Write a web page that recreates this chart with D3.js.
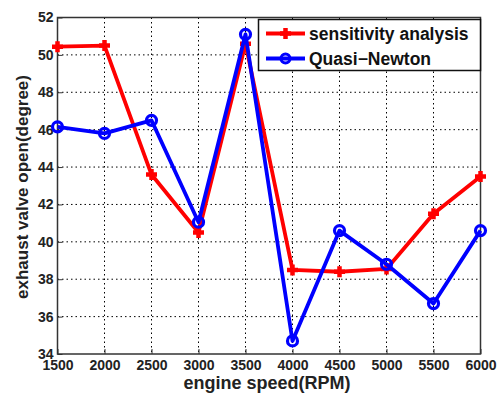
<!DOCTYPE html>
<html>
<head>
<meta charset="utf-8">
<script src="https://cdn.jsdelivr.net/npm/d3@7"></script>
<style>
body { margin: 0; background: #fff; }
text { font-family: "Liberation Sans", Arial, sans-serif; }
</style>
</head>
<body>
<div id="chart"></div>
<script>
// data
var speeds = [1500, 2000, 2500, 3000, 3500, 4000, 4500, 5000, 5500, 6000];
var sensitivity = [50.44, 50.5, 43.6, 40.5, 50.6, 38.5, 38.4, 38.55, 41.5, 43.5];
var quasiNewton = [46.15, 45.8, 46.5, 41.05, 51.1, 34.7, 40.6, 38.8, 36.7, 40.6];
var xTicks = [1500, 2000, 2500, 3000, 3500, 4000, 4500, 5000, 5500, 6000];
var yTicks = [34, 36, 38, 40, 42, 44, 46, 48, 50, 52];

var W = 498, H = 394,
	pL = 57.5, pR = 480.5, pT = 17.5, pB = 354;

var svg = d3.select("#chart").append("svg")
	.attr("width", W).attr("height", H);

var x = d3.scaleLinear().domain([1500, 6000]).range([pL, pR]);
var y = d3.scaleLinear().domain([34, 52]).range([pB, pT]);

// grid
var grid = svg.append("g");
grid.selectAll(".gx").data(xTicks.slice(1, -1)).enter().append("line")
	.attr("x1", function(d){return x(d)}).attr("x2", function(d){return x(d)})
	.attr("y1", pT).attr("y2", pB)
	.style("stroke", "#000").style("stroke-width", 1).style("stroke-dasharray", "1.5,3");
grid.selectAll(".gy").data(yTicks.slice(1, -1)).enter().append("line")
	.attr("y1", function(d){return y(d)}).attr("y2", function(d){return y(d)})
	.attr("x1", pL).attr("x2", pR)
	.style("stroke", "#000").style("stroke-width", 1).style("stroke-dasharray", "1.5,3");

// axes (ticks point inward like matlab)
var xAxis = svg.append("g").attr("transform", "translate(0," + pB + ")")
	.call(d3.axisBottom(x).tickValues(xTicks).tickSize(-5).tickPadding(6).tickFormat(d3.format("d")));
var yAxis = svg.append("g").attr("transform", "translate(" + pL + ",0)")
	.call(d3.axisLeft(y).tickValues(yTicks).tickSize(-5).tickPadding(4));
[xAxis, yAxis].forEach(function(a){
	a.select(".domain").remove();
	a.selectAll("line").style("stroke", "#333");
	a.selectAll("text").style("font-size", "14px").style("font-weight", "bold").style("fill", "#222")
		.style("font-family", "'Liberation Sans', Arial, sans-serif");
});

// box
svg.append("rect").attr("x", pL).attr("y", pT)
	.attr("width", pR - pL).attr("height", pB - pT)
	.style("fill", "none").style("stroke", "#333").style("stroke-width", 1.5);

// labels
svg.append("text").attr("x", (pL + pR) / 2 - 2).attr("y", 389)
	.attr("text-anchor", "middle").style("font-size", "18px").style("font-weight", "bold")
	.style("fill", "#222").text("engine speed(RPM)");
svg.append("text").attr("transform", "translate(28," + 187 + ")rotate(-90)")
	.attr("text-anchor", "middle").style("font-size", "17px").style("font-weight", "bold")
	.style("fill", "#222").text("exhaust valve open(degree)");

// series
var line = d3.line().x(function(d){return x(d[0])}).y(function(d){return y(d[1])});
var redPts = speeds.map(function(s, i){return [s, sensitivity[i]]});
var bluePts = speeds.map(function(s, i){return [s, quasiNewton[i]]});

svg.append("path").datum(redPts).attr("d", line)
	.style("fill", "none").style("stroke", "#ff0000").style("stroke-width", 3.8).style("stroke-linejoin", "round");
function plus(g, cx, cy, s) {
	g.append("path").attr("d", "M" + (cx - s) + "," + cy + "H" + (cx + s) + "M" + cx + "," + (cy - s) + "V" + (cy + s))
		.style("stroke", "#ff0000").style("stroke-width", 4.5).style("fill", "none");
}
var rm = svg.append("g");
redPts.forEach(function(p){ plus(rm, x(p[0]), y(p[1]), 5.5); });

svg.append("path").datum(bluePts).attr("d", line)
	.style("fill", "none").style("stroke", "#0000ff").style("stroke-width", 3.8).style("stroke-linejoin", "round");
svg.append("g").selectAll("circle").data(bluePts).enter().append("circle")
	.attr("cx", function(d){return x(d[0])}).attr("cy", function(d){return y(d[1])})
	.attr("r", 5).style("fill", "none").style("stroke", "#0000ff").style("stroke-width", 3.2);

// legend
var lg = svg.append("g");
lg.append("rect").attr("x", 258.5).attr("y", 19.5).attr("width", 222).attr("height", 51)
	.style("fill", "#fff").style("stroke", "#111").style("stroke-width", 1.5);
lg.append("line").attr("x1", 266).attr("x2", 305).attr("y1", 33.5).attr("y2", 33.5)
	.style("stroke", "#ff0000").style("stroke-width", 3.8);
plus(lg, 285.5, 33.5, 5.5);
lg.append("line").attr("x1", 266).attr("x2", 305).attr("y1", 58.5).attr("y2", 58.5)
	.style("stroke", "#0000ff").style("stroke-width", 3.8);
lg.append("circle").attr("cx", 285.5).attr("cy", 58.5).attr("r", 4.5)
	.style("fill", "none").style("stroke", "#0000ff").style("stroke-width", 3);
lg.append("text").attr("x", 309).attr("y", 39.5).style("font-size", "17.5px").style("font-weight", "bold")
	.style("fill", "#111").text("sensitivity analysis");
lg.append("text").attr("x", 309).attr("y", 64.5).style("font-size", "17.5px").style("font-weight", "bold")
	.style("fill", "#111").text("Quasi\u2212Newton");
</script>
</body>
</html>
